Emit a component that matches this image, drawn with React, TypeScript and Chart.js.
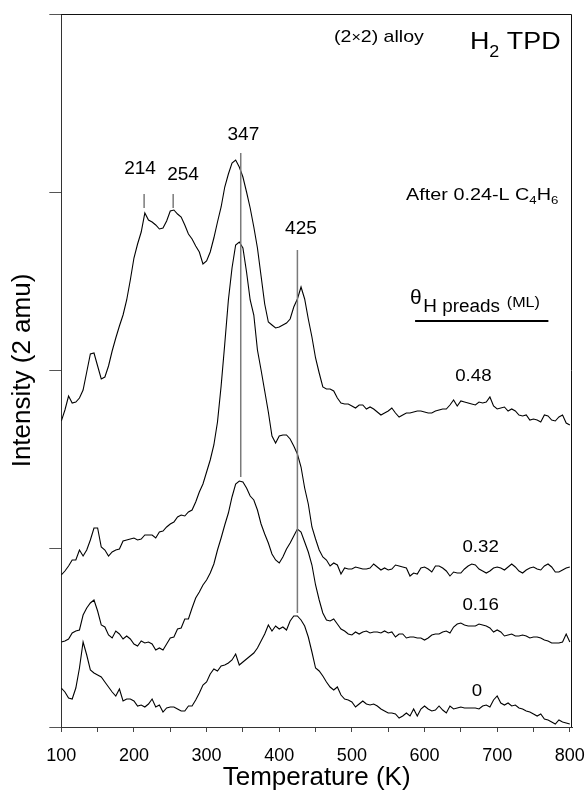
import React, { useEffect, useRef } from "react";
import { Chart, registerables } from "chart.js";

Chart.register(...registerables);

// Temperature grid (K)
const temperatureK = [
  100, 105, 110, 115, 120, 125, 130, 135, 140, 145,
  150, 155, 160, 165, 170, 175, 180, 185, 190, 195,
  200, 205, 210, 215, 220, 225, 230, 235, 240, 245,
  250, 255, 260, 265, 270, 275, 280, 285, 290, 295,
  300, 305, 310, 315, 320, 325, 330, 335, 340, 345,
  350, 355, 360, 365, 370, 375, 380, 385, 390, 395,
  400, 405, 410, 415, 420, 425, 430, 435, 440, 445,
  450, 455, 460, 465, 470, 475, 480, 485, 490, 495,
  500, 505, 510, 515, 520, 525, 530, 535, 540, 545,
  550, 555, 560, 565, 570, 575, 580, 585, 590, 595,
  600, 605, 610, 615, 620, 625, 630, 635, 640, 645,
  650, 655, 660, 665, 670, 675, 680, 685, 690, 695,
  700, 705, 710, 715, 720, 725, 730, 735, 740, 745,
  750, 755, 760, 765, 770, 775, 780, 785, 790, 795,
  800,
];

// H2 TPD intensity (offset traces, arbitrary units)
const theta000 = [
  39, 35, 29, 28, 39, 59, 85, 72, 57, 54,
  52, 50, 45, 40, 35, 31, 38, 26, 28, 28,
  26, 21, 22, 20, 23, 28, 20, 22, 15, 19,
  20, 20, 18, 16, 16, 21, 21, 27, 34, 42,
  45, 53, 58, 56, 61, 62, 64, 67, 73, 62,
  65, 68, 71, 74, 79, 86, 93, 102, 96, 101,
  98, 100, 97, 106, 111, 111, 107, 101, 90, 75,
  59, 56, 51, 45, 40, 37, 40, 32, 28, 27,
  25, 20, 23, 26, 23, 22, 23, 21, 18, 16,
  14, 14, 13, 9, 11, 14, 11, 18, 11, 18,
  21, 18, 16, 17, 21, 17, 14, 21, 18, 19,
  20, 19, 19, 19, 19, 18, 21, 22, 20, 27,
  31, 24, 22, 24, 21, 22, 19, 18, 16, 15,
  13, 11, 13, 8, 7, 5, 3, 7, 5, 4,
  3,
];

const theta016 = [
  85, 86, 88, 94, 96, 97, 112, 119, 124, 127,
  116, 102, 100, 92, 89, 96, 93, 88, 91, 88,
  83, 81, 86, 84, 85, 83, 77, 79, 77, 83,
  89, 90, 98, 99, 108, 108, 119, 129, 135, 142,
  147, 154, 163, 177, 189, 202, 214, 230, 243, 246,
  245, 239, 231, 227, 217, 203, 193, 184, 173, 167,
  164, 170, 178, 184, 191, 198, 195, 185, 175, 162,
  142, 127, 114, 107, 106, 108, 103, 98, 96, 93,
  92, 95, 93, 95, 96, 94, 95, 95, 94, 96,
  94, 95, 90, 93, 93, 89, 90, 90, 89, 89,
  87, 89, 92, 93, 93, 95, 96, 94, 100, 103,
  104, 102, 101, 101, 101, 103, 102, 101, 99, 95,
  97, 95, 91, 92, 93, 91, 91, 92, 91, 89,
  90, 90, 89, 87, 86, 84, 84, 84, 85, 93,
  85,
];

const theta032 = [
  152, 156, 161, 167, 167, 177, 171, 177, 187, 199,
  199, 180, 177, 171, 175, 177, 178, 186, 187, 188,
  189, 187, 188, 192, 192, 192, 189, 195, 196, 200,
  203, 205, 210, 212, 211, 215, 217, 225, 235, 243,
  255, 267, 282, 305, 341, 383, 427, 459, 482, 485,
  479, 455, 427, 412, 377, 357, 336, 315, 291, 284,
  291, 292, 292, 288, 281, 273, 260, 239, 223, 200,
  188, 177, 170, 167, 161, 164, 162, 153, 159, 158,
  158, 160, 159, 158, 158, 159, 163, 160, 157, 159,
  157, 158, 162, 161, 160, 159, 151, 154, 153, 159,
  160, 158, 155, 161, 161, 159, 156, 151, 155, 154,
  154, 158, 161, 163, 162, 158, 156, 154, 156, 159,
  160, 159, 157, 160, 163, 160, 156, 154, 157, 159,
  160, 158, 157, 161, 163, 160, 155, 155, 157, 159,
  160,
];

const theta048 = [
  306, 317, 331, 324, 325, 329, 337, 355, 373, 374,
  361, 348, 350, 361, 376, 389, 401, 412, 427, 447,
  469, 483, 495, 514, 507, 505, 502, 498, 499, 506,
  516, 517, 513, 510, 502, 493, 488, 481, 475, 463,
  466, 475, 489, 505, 520, 540, 553, 564, 567, 560,
  550, 535, 519, 500, 479, 451, 423, 405, 402, 399,
  400, 402, 404, 408, 420, 428, 440, 428, 408, 390,
  369, 354, 340, 338, 338, 336, 329, 324, 323, 323,
  321, 319, 322, 322, 318, 320, 318, 315, 312, 314,
  316, 319, 314, 310, 312, 314, 314, 315, 316, 316,
  315, 314, 314, 316, 317, 318, 318, 322, 327, 321,
  326, 325, 324, 323, 322, 325, 324, 325, 330, 321,
  318, 319, 320, 316, 318, 316, 312, 311, 312, 307,
  308, 307, 305, 312, 311, 307, 306, 310, 312, 304,
  302,
];

const seriesLabels = ["0", "0.16", "0.32", "0.48"];
const peakTemperatures = [214, 254, 347, 425];
const xTickValues = [100, 150, 200, 250, 300, 350, 400, 450, 500, 550, 600, 650, 700, 750, 800];
const yTickValues = [0, 178.25, 356.5, 534.75, 713];

const FONT = '"Liberation Sans", Arial, Helvetica, sans-serif';

type Run = [string, number, number];

function drawRuns(
  ctx: CanvasRenderingContext2D,
  x: number,
  y: number,
  runs: Run[],
  stretch: number,
  align: "left" | "center"
) {
  ctx.save();
  ctx.translate(x, y);
  ctx.scale(stretch, 1);
  ctx.textBaseline = "alphabetic";
  ctx.textAlign = "left";
  const widths = runs.map(([t, s]) => {
    ctx.font = `${s}px ${FONT}`;
    return ctx.measureText(t).width;
  });
  const total = widths.reduce((a, b) => a + b, 0);
  let cx = align === "center" ? -total / 2 : 0;
  runs.forEach(([t, s, dy], i) => {
    ctx.font = `${s}px ${FONT}`;
    ctx.fillText(t, cx, dy);
    cx += widths[i];
  });
  ctx.restore();
}

const decorPlugin = {
  id: "decor",
  afterDraw(chart: any) {
    const { ctx, chartArea: a, scales } = chart;
    const X = (v: number) => scales.x.getPixelForValue(v);
    const Y = (v: number) => scales.y.getPixelForValue(v);
    ctx.save();
    // frame: top and right
    ctx.strokeStyle = "#111";
    ctx.lineWidth = 1;
    ctx.beginPath();
    ctx.moveTo(a.left, Math.round(a.top) + 0.5);
    ctx.lineTo(Math.round(a.right) - 0.5, Math.round(a.top) + 0.5);
    ctx.lineTo(Math.round(a.right) - 0.5, a.bottom);
    ctx.stroke();

    // peak marker lines
    const spans: [number, number][] = [
      [533, 519],
      [533, 519],
      [574, 250],
      [477, 114],
    ];
    ctx.strokeStyle = "#7a7a7a";
    ctx.lineWidth = 1.5;
    peakTemperatures.forEach((t, i) => {
      const x = X(t);
      ctx.beginPath();
      ctx.moveTo(x, Y(spans[i][0]));
      ctx.lineTo(x, Y(spans[i][1]));
      ctx.stroke();
    });

    ctx.fillStyle = "#000";
    // peak labels
    const peakLabelPos: [number, number][] = [
      [208.4, 553],
      [267.6, 547],
      [350.6, 587],
      [430, 493],
    ];
    peakTemperatures.forEach((t, i) => {
      drawRuns(ctx, X(peakLabelPos[i][0]), Y(peakLabelPos[i][1]), [[String(t), 18, 0]], 1.06, "center");
    });

    // series labels
    const seriesLabelPos: [number, number][] = [
      [672, 31],
      [677.2, 117],
      [677.2, 175.3],
      [667.3, 346.3],
    ];
    seriesLabels.forEach((s, i) => {
      drawRuns(ctx, X(seriesLabelPos[i][0]), Y(seriesLabelPos[i][1]), [[s, 17, 0]], 1.1, "center");
    });

    // header texts
    drawRuns(ctx, X(537.2), Y(685.3), [["(2", 17, 0], ["\u00d7", 14, 0], ["2) alloy", 17, 0]], 1.15, "center");
    drawRuns(ctx, X(662.5), Y(677.7), [["H", 24, 0], ["2", 16, 8], [" TPD", 24, 0]], 1.12, "left");
    drawRuns(
      ctx,
      X(574.6),
      Y(527),
      [["After 0.24-L C", 16.5, 0], ["4", 11, 4], ["H", 16.5, 0], ["6", 11, 4]],
      1.2,
      "left"
    );

    // theta legend heading
    drawRuns(ctx, X(580), Y(423), [["\u03b8", 21, 0]], 1.0, "left");
    drawRuns(ctx, X(598.4), Y(415.3), [["H preads", 18, 0]], 1.05, "left");
    drawRuns(ctx, X(713.2), Y(420.3), [["(ML)", 14, 0]], 1.15, "left");
    ctx.strokeStyle = "#000";
    ctx.lineWidth = 2;
    ctx.beginPath();
    ctx.moveTo(X(587), Y(406));
    ctx.lineTo(X(770.5), Y(406));
    ctx.stroke();

    ctx.restore();
  },
};

export default function App() {
  const ref = useRef<HTMLCanvasElement | null>(null);

  useEffect(() => {
    if (!ref.current) return;
    const series = [theta000, theta016, theta032, theta048];
    const chart = new Chart(ref.current, {
      type: "line",
      data: {
        datasets: series.map((vals, i) => ({
          label: seriesLabels[i],
          data: temperatureK.map((t, j) => ({ x: t, y: vals[j] })),
          borderColor: "#000",
          borderWidth: 1.1,
          pointRadius: 0,
          fill: false,
          tension: 0,
        })),
      },
      options: {
        responsive: false,
        animation: false,
        events: [],
        layout: { padding: { top: 14, right: 14, left: 0, bottom: 0 } },
        plugins: {
          legend: { display: false },
          tooltip: { enabled: false },
        },
        scales: {
          x: {
            type: "linear",
            min: 100,
            max: 803,
            afterBuildTicks: (scale: any) => {
              scale.ticks = xTickValues.map((v) => ({ value: v }));
            },
            afterFit: (scale: any) => {
              scale.height = 65;
              scale.paddingLeft = 0;
              scale.paddingRight = 0;
            },
            ticks: {
              autoSkip: false,
              maxRotation: 0,
              padding: 13,
              color: "#000",
              font: { size: 18, family: FONT },
              callback: (v: any) => (Number(v) % 100 === 0 ? String(v) : ""),
            },
            grid: {
              drawOnChartArea: false,
              drawTicks: true,
              tickLength: 5,
              color: "#444",
            },
            border: { display: true, color: "#333", width: 1 },
            title: {
              display: true,
              text: "Temperature (K)",
              color: "#000",
              font: { size: 26, family: FONT, lineHeight: "28px" },
              padding: { top: 0, bottom: 0 },
            },
          },
          y: {
            type: "linear",
            min: 0,
            max: 713,
            afterBuildTicks: (scale: any) => {
              scale.ticks = yTickValues.map((v) => ({ value: v }));
            },
            afterFit: (scale: any) => {
              scale.width = 61.3;
              scale.paddingTop = 0;
              scale.paddingBottom = 0;
            },
            ticks: { display: false },
            grid: {
              drawOnChartArea: false,
              drawTicks: true,
              tickLength: 12,
              color: "#555",
            },
            border: { display: true, color: "#333", width: 1 },
            title: {
              display: true,
              text: "Intensity (2 amu)",
              color: "#000",
              font: { size: 26, family: FONT, lineHeight: "28px" },
              padding: { top: 9, bottom: 0 },
            },
          },
        },
      },
      plugins: [decorPlugin],
    });
    return () => chart.destroy();
  }, []);

  return (
    <div style={{ position: "absolute", left: 0, top: 0, width: 586, height: 792, background: "#fff" }}>
      <canvas ref={ref} width={586} height={792} style={{ display: "block" }} />
    </div>
  );
}
